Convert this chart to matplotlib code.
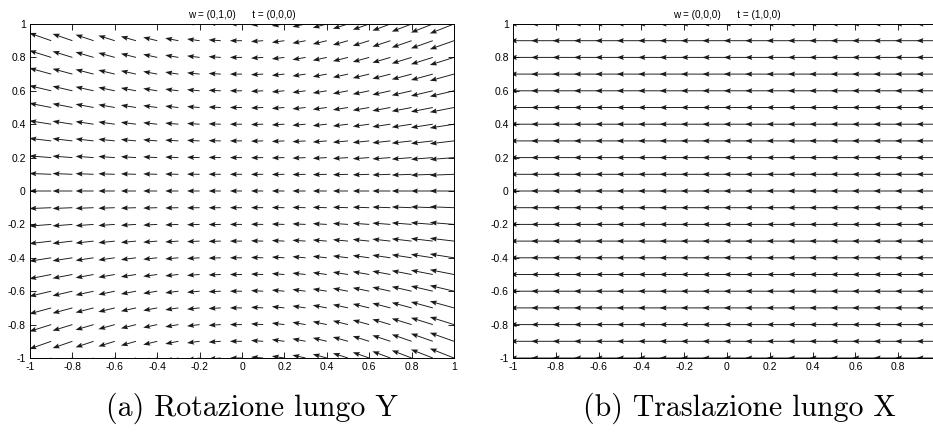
import numpy as np
import matplotlib
matplotlib.use("Agg")
import matplotlib.pyplot as plt

# ---- data -------------------------------------------------------------
grid_vals = [-1.0, -0.9, -0.8, -0.7, -0.6, -0.5, -0.4, -0.3, -0.2, -0.1, 0.0,
             0.1, 0.2, 0.3, 0.4, 0.5, 0.6, 0.7, 0.8, 0.9, 1.0]
w_left = (0, 1, 0)
t_left = (0, 0, 0)
w_right = (0, 0, 0)
t_right = (1, 0, 0)
title_left = "w = (0,1,0)      t = (0,0,0)"
title_right = "w = (0,0,0)      t = (1,0,0)"
caption_left = "(a) Rotazione lungo Y"
caption_right = "(b) Traslazione lungo X"
tick_vals = [-1, -0.8, -0.6, -0.4, -0.2, 0, 0.2, 0.4, 0.6, 0.8, 1]
tick_labels = ["-1", "-0.8", "-0.6", "-0.4", "-0.2", "0",
               "0.2", "0.4", "0.6", "0.8", "1"]
# the right panel is cropped just before x = 1, so its last label is not shown
xtick_labels_right = ["-1", "-0.8", "-0.6", "-0.4", "-0.2", "0",
                      "0.2", "0.4", "0.6", "0.8", ""]


def motion_field(w, t, X, Y):
    """Instantaneous image motion field (f = 1, Z = 1)."""
    wx, wy, wz = w
    tx, ty, tz = t
    U = (-tx + X * tz) + wx * X * Y - wy * (1 + X ** 2) + wz * Y
    V = (-ty + Y * tz) + wx * (1 + Y ** 2) - wy * X * Y - wz * X
    return U, V


X, Y = np.meshgrid(np.array(grid_vals), np.array(grid_vals))

fig = plt.figure(figsize=(9.33, 4.32), dpi=100)

ax_l = fig.add_axes([30 / 933, 74 / 432, 424 / 933, 334 / 432])
ax_r = fig.add_axes([513 / 933, 74 / 432, 428 / 933, 334 / 432])

panels = [
    (ax_l, w_left, t_left, 0.057, title_left, tick_labels),
    (ax_r, w_right, t_right, 0.115, title_right, xtick_labels_right),
]

sans = ["Liberation Sans", "DejaVu Sans"]

for ax, w, t, s, title, xlabels in panels:
    U, V = motion_field(w, t, X, Y)
    ax.quiver(X, Y, U * s, V * s, angles="xy", scale_units="xy", scale=1,
              pivot="tail", color="#1a1a1a", width=0.0022,
              headwidth=5.5, headlength=7.5, headaxislength=6.5)
    ax.set_xlim(-1, 1)
    ax.set_ylim(-1, 1)
    ax.set_xticks(tick_vals)
    ax.set_xticklabels(xlabels)
    ax.set_yticks(tick_vals)
    ax.set_yticklabels(tick_labels)
    ax.tick_params(direction="in", length=4, width=0.6, top=True, right=True,
                   labelsize=7.5, pad=3)
    for lab in ax.get_xticklabels() + ax.get_yticklabels():
        lab.set_family(sans)
    for sp in ax.spines.values():
        sp.set_linewidth(0.7)
    ax.set_title(title, fontsize=7.2, family=sans, pad=4)

fig.text(252 / 933, 1 - 408 / 432, caption_left, ha="center", va="center",
         fontsize=21.5, family=["cmr10", "DejaVu Serif"])
fig.text(739 / 933, 1 - 408 / 432, caption_right, ha="center", va="center",
         fontsize=21.5, family=["cmr10", "DejaVu Serif"])

fig.savefig("out.png", dpi=100)
